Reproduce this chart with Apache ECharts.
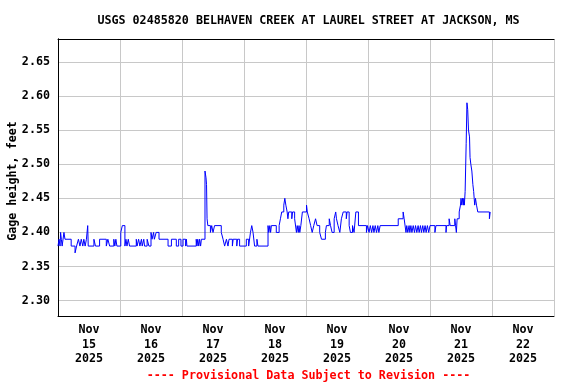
<!DOCTYPE html>
<html><head><meta charset="utf-8">
<script src="https://cdn.jsdelivr.net/npm/echarts@6/dist/echarts.min.js"></script>
<style>html,body{margin:0;padding:0;background:#fff}#c{width:576px;height:384px}</style>
</head><body><div id="c"></div>
<script>
const titleText = 'USGS 02485820 BELHAVEN CREEK AT LAUREL STREET AT JACKSON, MS';
const yName = 'Gage height, feet';
const footerText = '---- Provisional Data Subject to Revision ----';
const dayLabels = ['Nov\n15\n2025','Nov\n16\n2025','Nov\n17\n2025','Nov\n18\n2025','Nov\n19\n2025','Nov\n20\n2025','Nov\n21\n2025','Nov\n22\n2025'];
// hours since Nov 15 2025 00:00 at which the gage height changes
const hours = [0.0,0.4,0.8,1.0,1.3,1.6,2.3,2.7,5.1,6.6,7.2,7.9,8.5,9.0,9.6,10.0,10.5,11.0,11.5,11.7,13.9,14.5,16.1,18.7,19.3,20.0,21.6,22.0,22.4,22.8,24.3,24.9,25.9,26.3,26.7,27.2,27.7,30.3,30.6,31.2,31.7,32.3,32.6,33.2,33.5,34.5,35.2,36.0,36.4,37.0,37.3,38.0,39.1,42.6,43.9,45.8,46.7,47.6,48.4,49.4,49.7,49.9,53.5,53.8,54.1,54.5,54.8,55.2,55.5,56.9,57.3,57.5,57.7,58.0,59.0,59.5,60.0,60.6,63.2,63.9,64.5,65.2,65.8,66.2,67.5,67.8,69.2,69.5,70.3,72.9,73.8,74.5,75.0,75.5,76.1,77.0,77.4,81.3,81.6,82.0,82.3,82.6,84.5,85.6,86.1,86.6,87.4,87.8,88.2,88.7,89.0,89.3,90.5,90.8,91.6,92.3,92.6,93.0,93.3,93.6,94.0,94.6,96.2,96.5,97.2,97.8,98.4,99.0,99.7,100.3,101.3,102.0,103.5,103.9,105.0,105.5,106.1,106.9,107.5,107.8,108.4,109.1,109.7,110.4,111.6,111.9,112.7,113.2,114.0,114.6,115.3,116.3,119.4,119.8,120.4,120.9,121.4,121.9,122.3,122.8,123.3,123.8,124.2,124.7,131.7,133.6,134.0,134.7,135.0,135.4,135.9,136.2,136.6,137.0,137.5,138.0,138.4,138.9,139.4,139.8,140.3,140.7,141.2,141.6,142.1,142.5,143.0,143.5,144.0,145.9,146.3,150.2,150.4,151.4,151.8,153.6,153.9,154.2,154.5,155.3,155.8,156.0,156.3,156.6,156.9,157.1,157.3,157.6,158.0,158.3,158.6,158.9,159.3,159.5,159.8,160.2,160.6,160.9,161.1,161.3,161.6,162.0,162.5,167.0,167.3];
const gage = [2.38,2.39,2.38,2.40,2.39,2.38,2.40,2.39,2.38,2.37,2.38,2.39,2.38,2.39,2.38,2.39,2.38,2.39,2.41,2.38,2.39,2.38,2.39,2.38,2.39,2.38,2.39,2.38,2.39,2.38,2.40,2.41,2.38,2.39,2.38,2.39,2.38,2.39,2.38,2.39,2.38,2.39,2.38,2.39,2.38,2.39,2.38,2.40,2.39,2.40,2.39,2.40,2.39,2.38,2.39,2.38,2.39,2.38,2.39,2.38,2.39,2.38,2.39,2.38,2.39,2.38,2.39,2.38,2.39,2.49,2.48,2.47,2.42,2.41,2.40,2.41,2.40,2.41,2.40,2.39,2.38,2.39,2.38,2.39,2.38,2.39,2.38,2.39,2.38,2.39,2.38,2.40,2.41,2.40,2.38,2.39,2.38,2.41,2.40,2.41,2.40,2.41,2.40,2.41,2.42,2.43,2.44,2.45,2.44,2.43,2.42,2.43,2.42,2.43,2.42,2.40,2.41,2.40,2.41,2.40,2.41,2.43,2.44,2.43,2.42,2.41,2.40,2.41,2.42,2.41,2.40,2.39,2.40,2.41,2.42,2.41,2.40,2.42,2.43,2.42,2.41,2.40,2.42,2.43,2.42,2.43,2.41,2.40,2.41,2.40,2.43,2.41,2.40,2.41,2.40,2.41,2.40,2.41,2.40,2.41,2.40,2.41,2.40,2.41,2.42,2.43,2.42,2.40,2.41,2.40,2.41,2.40,2.41,2.40,2.41,2.40,2.41,2.40,2.41,2.40,2.41,2.40,2.41,2.40,2.41,2.40,2.41,2.40,2.41,2.40,2.41,2.40,2.41,2.42,2.41,2.42,2.41,2.40,2.42,2.43,2.44,2.45,2.44,2.45,2.44,2.45,2.44,2.46,2.53,2.59,2.58,2.55,2.54,2.51,2.50,2.49,2.47,2.46,2.45,2.44,2.45,2.44,2.43,2.42,2.43,2.42,2.42];
const yMin = 2.2775, yMax = 2.6835;

const font = 'DejaVu Sans Mono';
const chart = echarts.init(document.getElementById('c'), null, {renderer: 'canvas'});
const pts = hours.map((h, i) => [h, gage[i]]);
chart.setOption({
  animation: false,
  backgroundColor: '#ffffff',
  grid: {left: 58, top: 39, width: 496, height: 277, show: false},
  xAxis: [
    {type: 'category', data: dayLabels, boundaryGap: true, gridIndex: 0, position: 'bottom',
     axisLine: {show: true, lineStyle: {color: '#000', width: 1}},
     axisTick: {show: false},
     splitLine: {show: true, interval: 0, lineStyle: {color: '#c8c8c8', width: 1}},
     axisLabel: {interval: 0, margin: 7, fontFamily: font, fontWeight: 'bold', fontSize: 11.7, lineHeight: 14.5, color: '#000'}},
    {type: 'value', min: 0, max: 192, gridIndex: 0, show: false},
    {type: 'value', min: 0, max: 192, gridIndex: 0, position: 'top',
     axisLine: {show: true, lineStyle: {color: '#000', width: 1}}, axisTick: {show: false},
     axisLabel: {show: false}, splitLine: {show: false}}
  ],
  yAxis: [
    {type: 'value', min: yMin, max: yMax, splitNumber: 8, position: 'left',
     axisLine: {show: true, lineStyle: {color: '#000', width: 1}},
     axisTick: {show: false},
     splitLine: {show: true, showMinLine: false, showMaxLine: false, lineStyle: {color: '#c8c8c8', width: 1}},
     axisLabel: {margin: 8, fontFamily: font, fontWeight: 'bold', fontSize: 11.7, color: '#000',
       showMinLabel: false, showMaxLabel: false,
       formatter: v => Math.abs(v * 20 - Math.round(v * 20)) < 1e-6 ? v.toFixed(2) : ''}},
    {type: 'value', min: yMin, max: yMax, position: 'right',
     axisLine: {show: true, lineStyle: {color: '#000', width: 1}}, axisTick: {show: false},
     axisLabel: {show: false}, splitLine: {show: false}}
  ],
  series: [{
    type: 'line', xAxisIndex: 1, yAxisIndex: 0, data: pts, step: 'end',
    showSymbol: false, symbol: 'none',
    lineStyle: {color: '#0000ff', width: 1}
  }],
  graphic: [
    {type: 'text', x: 308.5, y: 20.5, style: {text: titleText, align: 'center', verticalAlign: 'middle', font: 'bold 11.7px "DejaVu Sans Mono"', fill: '#000'}},
    {type: 'text', x: 13, y: 181, rotation: Math.PI / 2, style: {text: yName, align: 'center', verticalAlign: 'middle', font: 'bold 11.7px "DejaVu Sans Mono"', fill: '#000'}},
    {type: 'text', x: 308.5, y: 375.5, style: {text: footerText, align: 'center', verticalAlign: 'middle', font: 'bold 11.7px "DejaVu Sans Mono"', fill: '#ff0000'}}
  ]
});
</script></body></html>
